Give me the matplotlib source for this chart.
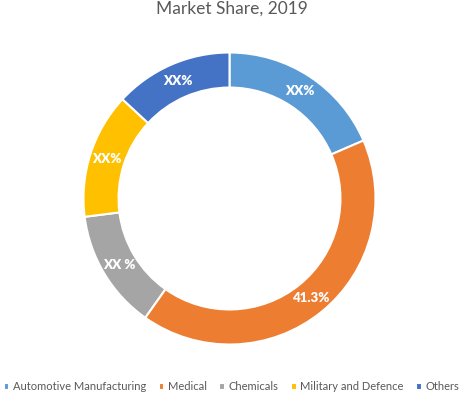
import matplotlib.pyplot as plt

# data
categories = ['Automotive Manufacturing', 'Medical', 'Chemicals', 'Military and Defence', 'Others']
shares = [18.5, 41.3, 13.2, 13.9, 13.1]
labels = ['XX%', '41.3%', 'XX %', 'XX%', 'XX%']
colors = ['#5B9BD5', '#ED7D31', '#A5A5A5', '#FFC000', '#4472C4']

plt.rcParams['font.family'] = ['Lato', 'DejaVu Sans']

fig = plt.figure(figsize=(4.63, 3.95), dpi=100)
ax = fig.add_axes([(229.5 - 146) / 463, 1 - (198.5 + 146) / 395, 292 / 463, 292 / 395])

wedges, texts, autotexts = ax.pie(
    shares, colors=colors, startangle=90, counterclock=False,
    radius=1, autopct='%1.1f%%', pctdistance=0.88,
    wedgeprops=dict(width=0.24, edgecolor='white', linewidth=1.5),
)
for t, lab in zip(autotexts, labels):
    t.set_text(lab)
    t.set_color('white')
    t.set_fontweight('heavy')
    t.set_fontsize(9.5)

ax.set_xlim(-1, 1)
ax.set_ylim(-1, 1)
ax.set_aspect('equal')

fig.text(0.5, 1 - 9 / 395, 'Market Share, 2019', ha='center', va='center',
         fontsize=12.5, color='#595959')

fig.legend(wedges, categories, loc='center', bbox_to_anchor=(0.5, 1 - 387 / 395),
           ncol=5, frameon=False, fontsize=8.0, labelcolor='#595959',
           handlelength=0.5, handleheight=0.5, handletextpad=0.35, columnspacing=1.1,
           borderpad=0, borderaxespad=0)

fig.savefig('out.png', dpi=100)
